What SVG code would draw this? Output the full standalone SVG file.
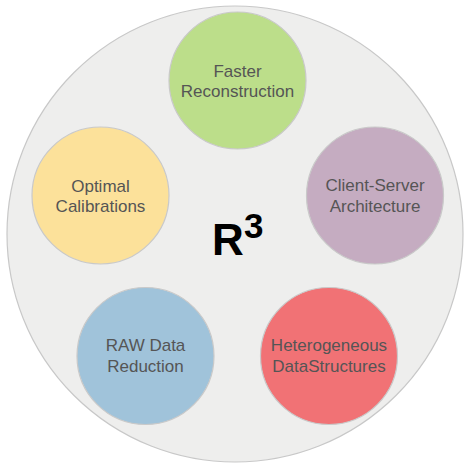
<svg xmlns="http://www.w3.org/2000/svg" width="464" height="465" viewBox="0 0 464 465">
<style>
.n{stroke:#c9c9c9;stroke-width:1.2}
.t{font-family:"Liberation Sans",Arial,sans-serif;font-size:17px;fill:#555555;text-anchor:middle}
.r{font-family:"Liberation Sans",Arial,sans-serif;font-weight:bold;fill:#000000}
</style>
<rect width="464" height="465" fill="#ffffff"/>
<g id="outer">
<circle cx="235" cy="234" r="228" fill="#eeeeed" stroke="#c8c8c8" stroke-width="1.2"/>
<text class="r" x="212" y="255" font-size="44">R</text>
<text class="r" x="244" y="238" font-size="35">3</text>
</g>
<g id="connectors"></g>
<g id="faster">
<circle class="n" cx="237.5" cy="80.5" r="68.5" fill="#bcde8a"/>
<text class="t" x="237.5" y="77">Faster</text>
<text class="t" x="237.5" y="97">Reconstruction</text>
</g>
<g id="client-server">
<circle class="n" cx="375" cy="195.5" r="68.5" fill="#c5acc1"/>
<text class="t" x="375" y="191">Client-Server</text>
<text class="t" x="375" y="212">Architecture</text>
</g>
<g id="heterogeneous">
<circle class="n" cx="329" cy="356" r="68.5" fill="#f17275"/>
<text class="t" x="329" y="351">Heterogeneous</text>
<text class="t" x="329" y="372">DataStructures</text>
</g>
<g id="raw">
<circle class="n" cx="145.5" cy="356" r="68.5" fill="#a0c3da"/>
<text class="t" x="145.5" y="351">RAW Data</text>
<text class="t" x="145.5" y="372">Reduction</text>
</g>
<g id="optimal">
<circle class="n" cx="100.5" cy="195.5" r="68.5" fill="#fce19a"/>
<text class="t" x="100.5" y="192">Optimal</text>
<text class="t" x="100.5" y="212">Calibrations</text>
</g>
</svg>
